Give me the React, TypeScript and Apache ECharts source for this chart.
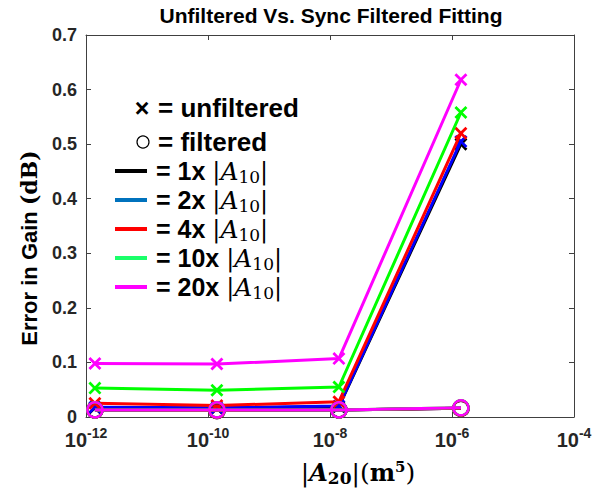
import React, { useEffect, useRef } from "react";
import * as echarts from "echarts";

const xValues = [1.4e-12, 1.4e-10, 1.4e-8, 1.4e-6];
const seriesNames = ["1x", "2x", "4x", "10x", "20x"];
const seriesColors = ["#000000", "#0000ff", "#ff0000", "#00ff00", "#ff00ff"];
const legendColors = ["#000000", "#0072bd", "#ff0000", "#1aff6a", "#ff00ff"];
const unfiltered1x = [0.017, 0.016, 0.019, 0.5];
const unfiltered2x = [0.018, 0.017, 0.02, 0.505];
const unfiltered4x = [0.025, 0.021, 0.028, 0.52];
const unfiltered10x = [0.053, 0.049, 0.055, 0.558];
const unfiltered20x = [0.098, 0.097, 0.107, 0.618];
const filtered1x = [0.013, 0.012, 0.013, 0.016];
const filtered2x = [0.013, 0.012, 0.013, 0.016];
const filtered4x = [0.013, 0.012, 0.013, 0.016];
const filtered10x = [0.013, 0.013, 0.013, 0.017];
const filtered20x = [0.013, 0.013, 0.013, 0.017];
const yTicks = [0, 0.1, 0.2, 0.3, 0.4, 0.5, 0.6, 0.7];
const xTickExponents = [-12, -10, -8, -6, -4];

const unfiltered = [unfiltered1x, unfiltered2x, unfiltered4x, unfiltered10x, unfiltered20x];
const filtered = [filtered1x, filtered2x, filtered4x, filtered10x, filtered20x];

const X_PATH =
  "path://M0,1.5 L1.5,0 L5,3.5 L8.5,0 L10,1.5 L6.5,5 L10,8.5 L8.5,10 L5,6.5 L1.5,10 L0,8.5 L3.5,5 Z";

const AX = "#404040";
const SANS = "Liberation Sans, Arial, sans-serif";
const SERIF = "DejaVu Serif, Liberation Serif, serif";

export default function App() {
  const ref = useRef<HTMLDivElement>(null);
  useEffect(() => {
    if (!ref.current) return;
    const chart = echarts.init(ref.current, undefined, { renderer: "svg" });
    const toPts = (ys: number[]) => ys.map((y, i) => [Math.log10(xValues[i]), y]);
    const series: any[] = [];
    unfiltered.forEach((ys, k) => {
      series.push({
        type: "line",
        name: seriesNames[k] + " unfiltered",
        data: toPts(ys),
        symbol: X_PATH,
        symbolSize: 13,
        lineStyle: { width: 3, color: seriesColors[k] },
        itemStyle: { color: seriesColors[k] },
        z: 2 + k,
      });
    });
    filtered.forEach((ys, k) => {
      series.push({
        type: "line",
        name: seriesNames[k] + " filtered",
        data: toPts(ys),
        symbol: "circle",
        symbolSize: 15,
        lineStyle: { width: 3, color: seriesColors[k] },
        itemStyle: { color: "rgba(0,0,0,0)", borderColor: seriesColors[k], borderWidth: 2.5 },
        z: 10 + k,
      });
    });

    const legendY = [171, 200, 229, 258, 287];
    const graphics: any[] = [
      {
        type: "text",
        x: 331,
        y: 15,
        style: {
          text: "Unfiltered Vs. Sync Filtered Fitting",
          font: `bold 21px ${SANS}`,
          fill: "#000",
          align: "center",
          verticalAlign: "middle",
        },
      },
      {
        type: "text",
        x: 142,
        y: 108,
        style: { text: "×", font: `bold 25px ${SANS}`, fill: "#000", align: "center", verticalAlign: "middle" },
      },
      {
        type: "text",
        x: 158,
        y: 108,
        style: { text: "= unfiltered", font: `bold 26px ${SANS}`, fill: "#000", verticalAlign: "middle" },
      },
      {
        type: "circle",
        shape: { cx: 143, cy: 142, r: 6 },
        style: { fill: "none", stroke: "#000", lineWidth: 1.2 },
      },
      {
        type: "text",
        x: 158,
        y: 142,
        style: { text: "= filtered", font: `bold 26px ${SANS}`, fill: "#000", verticalAlign: "middle" },
      },
      {
        type: "text",
        x: 29,
        y: 248,
        rotation: Math.PI / 2,
        style: {
          text: "{a|Error in Gain }{b|(dB)}",
          align: "center",
          verticalAlign: "middle",
          rich: {
            a: { font: `bold 22px ${SANS}`, fill: "#000", lineHeight: 28 },
            b: { font: `bold 22px ${SERIF}`, fill: "#000", lineHeight: 28 },
          },
        },
      },
      {
        type: "text",
        x: 358,
        y: 472,
        style: {
          text: "{m||}{a|A}{s|20}{m||(}{b|m}{p|5}{m|)}",
          align: "center",
          verticalAlign: "middle",
          rich: {
            m: { font: `25px ${SERIF}`, fill: "#000", lineHeight: 30 },
            a: { font: `italic bold 24px ${SERIF}`, fill: "#000", lineHeight: 30 },
            b: { font: `bold 24px ${SERIF}`, fill: "#000", lineHeight: 30 },
            s: { font: `bold 17px ${SERIF}`, fill: "#000", lineHeight: 18, padding: [12, 0, 0, 0] },
            p: { font: `bold 15px ${SERIF}`, fill: "#000", lineHeight: 18, padding: [0, 0, 10, 0] },
          },
        },
      },
    ];
    seriesNames.forEach((nm, k) => {
      graphics.push({
        type: "line",
        shape: { x1: 115, y1: legendY[k], x2: 147, y2: legendY[k] },
        style: { stroke: legendColors[k], lineWidth: 4 },
      });
      graphics.push({
        type: "text",
        x: 156,
        y: legendY[k],
        style: {
          text: `{t|= ${nm} }{m||}{a|A}{s|10}{m||}`,
          verticalAlign: "middle",
          rich: {
            t: { font: `bold 25px ${SANS}`, fill: "#000", lineHeight: 24 },
            m: { font: `24px ${SERIF}`, fill: "#000", lineHeight: 24 },
            a: { font: `italic 25px ${SERIF}`, fill: "#000", lineHeight: 24 },
            s: { font: `17px ${SERIF}`, fill: "#000", lineHeight: 12, padding: [12, 0, 0, 0] },
          },
        },
      });
    });

    chart.setOption({
      animation: false,
      backgroundColor: "#fff",
      grid: { left: 86, top: 35, right: 29, bottom: 75, show: false },
      xAxis: [
        {
          type: "value",
          min: xTickExponents[0],
          max: xTickExponents[xTickExponents.length - 1],
          interval: 2,
          axisLine: { show: true, onZero: false, lineStyle: { color: AX, width: 1 } },
          axisTick: { show: true, inside: true, length: 5, lineStyle: { color: AX } },
          splitLine: { show: false },
          axisLabel: {
            margin: 10,
            formatter: (v: number) => `{a|10}{b|${v}}`,
            rich: {
              a: { fontFamily: SANS, fontWeight: "bold", fontSize: 20, color: "#262626", lineHeight: 26 },
              b: { fontFamily: SANS, fontWeight: "bold", fontSize: 14, color: "#262626", lineHeight: 12, padding: [0, 0, 14, 0] },
            },
          },
        },
        {
          type: "value",
          position: "top",
          min: xTickExponents[0],
          max: xTickExponents[xTickExponents.length - 1],
          interval: 2,
          axisLine: { show: true, onZero: false, lineStyle: { color: AX, width: 1 } },
          axisTick: { show: true, inside: true, length: 5, lineStyle: { color: AX } },
          axisLabel: { show: false },
          splitLine: { show: false },
        },
      ],
      yAxis: [
        {
          type: "value",
          min: yTicks[0],
          max: yTicks[yTicks.length - 1],
          interval: 0.1,
          axisLine: { show: true, onZero: false, lineStyle: { color: AX, width: 1 } },
          axisTick: { show: true, inside: true, length: 5, lineStyle: { color: AX } },
          splitLine: { show: false },
          axisLabel: {
            margin: 9,
            fontFamily: SANS,
            fontWeight: "bold",
            fontSize: 18,
            color: "#262626",
            formatter: (v: number) => (v === 0 ? "0" : v.toFixed(1)),
          },
        },
        {
          type: "value",
          position: "right",
          min: yTicks[0],
          max: yTicks[yTicks.length - 1],
          interval: 0.1,
          axisLine: { show: true, onZero: false, lineStyle: { color: AX, width: 1 } },
          axisTick: { show: true, inside: true, length: 5, lineStyle: { color: AX } },
          axisLabel: { show: false },
          splitLine: { show: false },
        },
      ],
      series,
      graphic: graphics,
    });
    return () => chart.dispose();
  }, []);
  return (
    <div
      ref={ref}
      style={{ position: "fixed", left: 0, top: 0, width: 603, height: 492, background: "#fff" }}
    />
  );
}
